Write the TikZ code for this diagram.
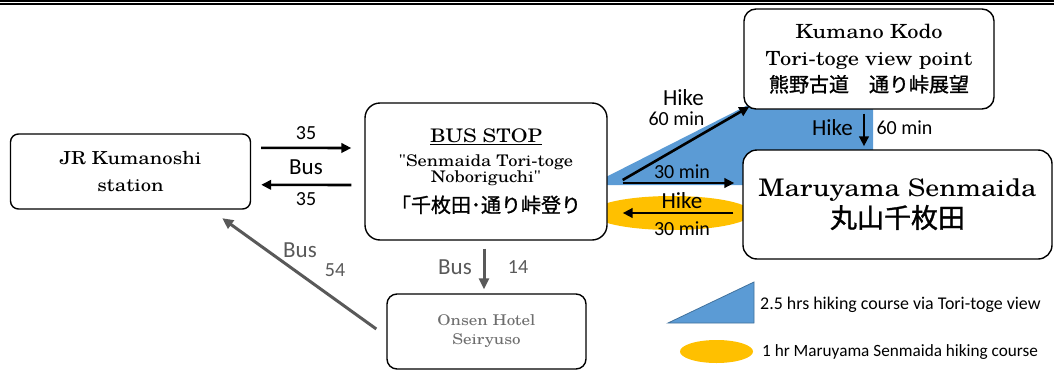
\documentclass[tikz,border=0pt]{standalone}
\usepackage{fontspec}
\setmainfont{texgyreschola-regular.otf}[FakeStretch=1.15, Ligatures=TeXOff]
\newfontfamily\lab{Carlito}
\newfontfamily\jp{Noto Sans CJK JP}[FakeBold=1.2]
\usetikzlibrary{arrows.meta,calc}
\definecolor{hikeblue}{HTML}{5B9BD5}
\definecolor{hikeorange}{HTML}{FFC000}
\definecolor{busgray}{HTML}{595959}
\definecolor{edgeblue}{HTML}{41719C}
\definecolor{hoteltext}{HTML}{6E6E6E}
\tikzset{
  place/.style={draw=black, line width=1.4pt, fill=white, rounded corners=#1,
    inner sep=0pt, align=center},
  place/.default=10pt,
  blackarr/.style={line width=2.6pt, -{Triangle[length=10pt,width=9.5pt]}},
  grayarr/.style={draw=busgray, line width=3pt, -{Triangle[length=11pt,width=10pt]}},
  lbl/.style={font={\lab\fontsize{20}{22}\selectfont}, inner sep=0pt},
  biglbl/.style={font={\lab\fontsize{23}{25}\selectfont}, inner sep=0pt},
  graylbl/.style={text=busgray},
  legendtext/.style={font={\lab\fontsize{#1}{19}\selectfont}, inner sep=0pt, anchor=west},
  legendtext/.default=17.6
}
\begin{document}
\begin{tikzpicture}[x=1pt,y=-1pt]
\useasboundingbox (0,0) rectangle (1054,372);
% top frame lines
\draw[line width=1.2pt] (0,1) -- (1054,1);
\draw[line width=1.5pt] (0,4.2) -- (1054,4.2);

% course shapes (behind the boxes)
\fill[hikeblue] (604,178) -- (752,103) -- (873,103) -- (873,185) -- (604,185) -- cycle;
\fill[hikeorange] (672,213) ellipse [x radius=80, y radius=17];

% places
\node[place=8pt, minimum width=240pt, minimum height=75pt,
  font={\fontsize{17.9}{27}\selectfont}] (jr) at (130.5,171.5)
  {JR Kumanoshi\\ station};
\node[place=15pt, minimum width=242pt, minimum height=137pt,
  font={\fontsize{16}{16.3}\selectfont}] (bus) at (486,171.5)
  {{\fontsize{18.7}{16.3}\selectfont\underline{BUS STOP}}\\[7.4pt]
   "Senmaida Tori-toge\\ Noboriguchi"\\[8.6pt]
   {\jp\fontsize{20}{16.3}\selectfont 「千枚田･通り峠登り}};
\node[place=12pt, minimum width=250pt, minimum height=100pt,
  font={\fontsize{19.5}{26.5}\selectfont}] (kodo) at (869,59)
  {Kumano Kodo\\ Tori-toge view point\\
   {\jp\fontsize{20}{26.5}\selectfont 熊野古道　通り峠展望}};
\node[place=14pt, minimum width=309pt, minimum height=109pt,
  font={\fontsize{24.2}{31}\selectfont}] (maru) at (897.5,204.5)
  {Maruyama Senmaida\\ {\jp\fontsize{27}{31}\selectfont 丸山千枚田}};
\node[place=10pt, minimum width=199pt, minimum height=75pt,
  font={\fontsize{14.8}{19}\selectfont}, text=hoteltext] (onsen) at (486.5,331.5)
  {Onsen Hotel\\ Seiryuso};

% bus JR <-> bus stop
\coordinate (jrA) at ($(jr.north east)+(10,14.5)$);
\coordinate (jrB) at ($(jr.north east)+(10,51.5)$);
\coordinate (busA) at ($(bus.west)+(-13,-23.5)$);
\coordinate (busB) at ($(bus.west)+(-13,13.5)$);
\draw[blackarr] (jrA) -- (busA);
\draw[blackarr] (busB) -- (jrB);
\node[lbl] (t35a) at (306,133) {35};
\node[biglbl] (tbus1) at (306,167) {Bus};
\node[lbl] (t35b) at (306,199) {35};

% hikes
\coordinate (busH1) at ($(bus.east)+(15,8.5)$);
\coordinate (kodoH1) at ($(kodo.south west)+(6,-3)$);
\draw[blackarr] (busH1) -- (kodoH1);
\node[biglbl] (thike1) at (683.5,98) {Hike};
\node[lbl] (t60a) at (676.5,119) {60 min};

\coordinate (busH2) at ($(bus.east)+(15,11.5)$);
\coordinate (maruH2) at ($(maru.west)+(-8,-21.5)$);
\draw[blackarr] (busH2) -- (maruH2);
\node[lbl] (t30a) at (682,172) {30 min};

\coordinate (maruH3) at ($(maru.west)+(-9,8.5)$);
\coordinate (busH3) at ($(bus.east)+(15,41.5)$);
\draw[blackarr] (maruH3) -- (busH3);
\node[biglbl] (thike3) at (682,201) {Hike};
\node[lbl] (t30b) at (682,229) {30 min};

\coordinate (kodoH4) at ($(kodo.south)+(-5,4)$);
\coordinate (maruH4) at ($(maru.north)+(-33.5,-3)$);
\draw[blackarr] (kodoH4) -- (maruH4);
\node[biglbl] (thike4) at (832.5,128) {Hike};
\node[lbl] (t60b) at (904.5,128) {60 min};

% gray bus links
\coordinate (busD) at ($(bus.south)+(-2,8)$);
\coordinate (onsenN) at ($(onsen.north)+(-2.5,-4)$);
\draw[grayarr] (busD) -- (onsenN);
\node[biglbl, graylbl] (tbus2) at (455,267) {Bus};
\node[lbl, graylbl] (t14) at (518,267) {14};

\coordinate (onsenW) at ($(onsen.west)+(-10,-2.5)$);
\coordinate (jrSE) at ($(jr.south east)+(-29,8.5)$);
\draw[grayarr] (onsenW) -- (jrSE);
\node[biglbl, graylbl] (tbus3) at (300,250) {Bus};
\node[lbl, graylbl] (t54) at (335,270) {54};

% legend
\filldraw[fill=hikeblue, draw=edgeblue, line width=0.8pt] (668,323) -- (754,282) -- (754,323) -- cycle;
\node[legendtext=17.9] (leg1) at (760,305) {2.5 hrs hiking course via Tori-toge view};
\fill[hikeorange] (716.5,351.5) ellipse [x radius=36.5, y radius=11.5];
\node[legendtext=17.2] (leg2) at (762,352) {1 hr Maruyama Senmaida hiking course};
\end{tikzpicture}
\end{document}
